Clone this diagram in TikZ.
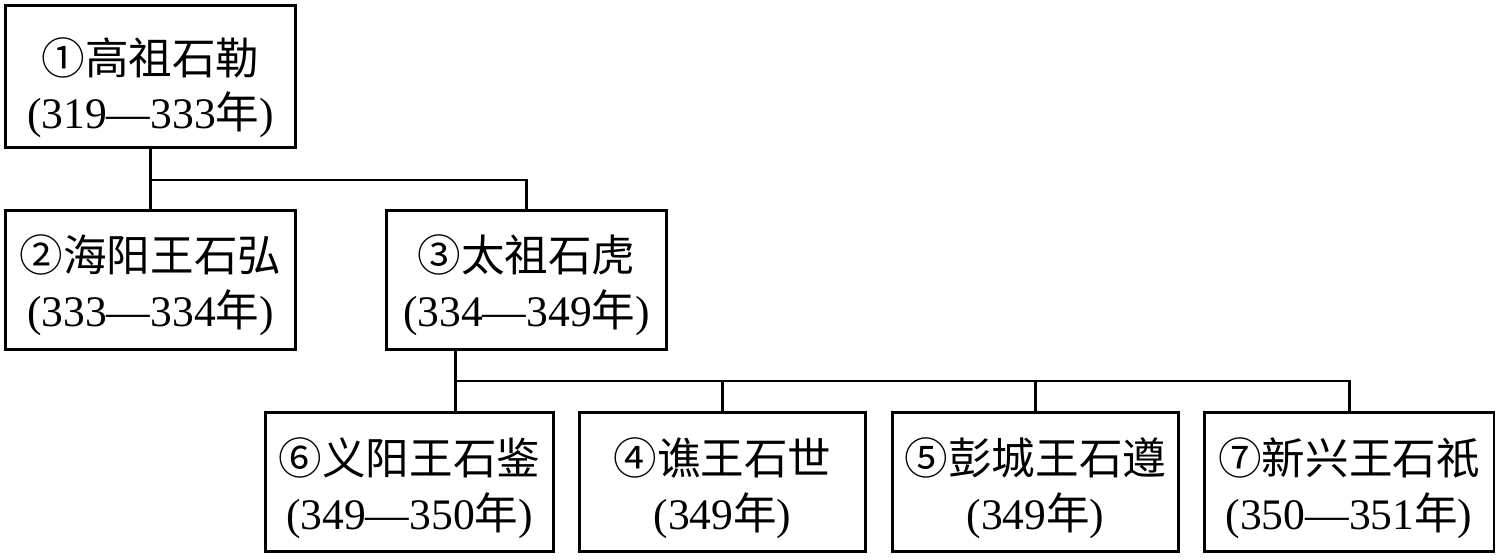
\documentclass[tikz,border=0pt]{standalone}
\usepackage{fontspec}
\setmainfont{Liberation Serif}
\newfontfamily\cjk{Noto Sans CJK SC}
\usetikzlibrary{positioning}
\tikzset{
	every node/.style = {font=\fontsize{24.8}{31}\selectfont},
	ruler/.style = {draw, black, line width=1.7pt, minimum height=2.8cm, inner sep=0pt},
	reign/.style = {align=center, inner sep=0pt},
	link/.style = {-, line width=1.7pt, black}
}

\begin{document}
\begin{tikzpicture}[x=0.02cm, y=-0.02cm]
		\useasboundingbox (0,0) rectangle (1500,560);
		% depth 1
		\node[ruler, minimum width=5.82cm, minimum height=2.86cm] (b1) at (150.5,76.5) {};
		\node[reign] (n1) at ([yshift=-0.22cm]b1.center) {{\cjk ①高祖石勒}\\(319—333{\cjk 年})};
		% depth 2
		\node[ruler, minimum width=5.82cm] (b2) at (150.5,280) {};
		\node[reign] (n2) at ([yshift=-0.1cm]b2.center) {{\cjk ②海阳王石弘}\\(333—334{\cjk 年})};
		\node[ruler, minimum width=5.62cm] (b3) at (526.5,280) {};
		\node[reign] (n3) at ([yshift=-0.1cm]b3.center) {{\cjk ③太祖石虎}\\(334—349{\cjk 年})};
		% depth 3
		\node[ruler, minimum width=5.76cm] (b6) at (409.5,482) {};
		\node[reign] (n6) at ([yshift=-0.12cm]b6.center) {{\cjk ⑥义阳王石鉴}\\(349—350{\cjk 年})};
		\node[ruler, minimum width=5.74cm] (b4) at (722.5,482) {};
		\node[reign] (n4) at ([yshift=-0.12cm]b4.center) {{\cjk ④谯王石世}\\(349{\cjk 年})};
		\node[ruler, minimum width=5.74cm] (b5) at (1035.5,482) {};
		\node[reign] (n5) at ([yshift=-0.12cm]b5.center) {{\cjk ⑤彭城王石遵}\\(349{\cjk 年})};
		\node[ruler, minimum width=5.80cm] (b7) at (1349,482) {};
		\node[reign] (n7) at ([yshift=-0.12cm]b7.center) {{\cjk ⑦新兴王石祇}\\(350—351{\cjk 年})};
		
		% links 1 -> 2
		\coordinate (j1) at (150.5,180);
		\draw[link] (b1.south) -- (b2.north);
		\draw[link] (j1) -| (b3.north);
		% links 3 -> children
		\coordinate (t3) at (455,350);
		\coordinate (j2) at (455,381);
		\draw[link] (t3) -- (t3 |- b6.north);
		\draw[link] (j2) -| (b7.north);
		\draw[link] (b4.north) -- (b4.north |- j2);
		\draw[link] (b5.north) -- (b5.north |- j2);
	\end{tikzpicture}
\end{document}
